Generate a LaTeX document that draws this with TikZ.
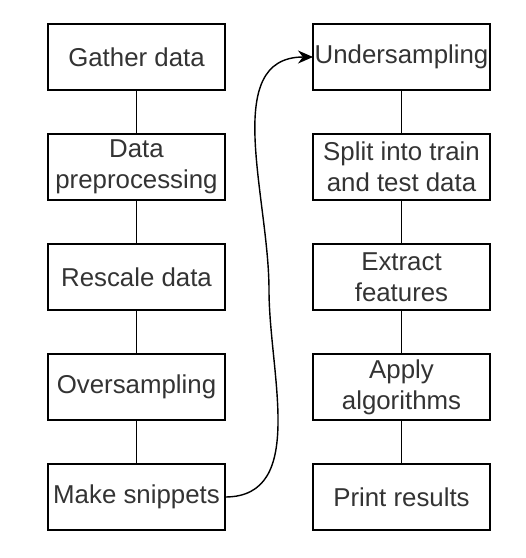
\documentclass[tikz,border=0pt]{standalone}
\usepackage{fontspec}
\setmainfont{Liberation Sans}
\usetikzlibrary{arrows,arrows.meta,positioning}
\tikzset{
    stepbox/.style={rectangle, draw=black, line width=1.1pt, minimum width=3.54cm, minimum height=1.32cm, inner sep=0pt, outer sep=0pt, align=center, text=black!80},
    link/.style={draw=black, line width=0.8pt},
    jump/.style={draw=black, line width=0.8pt, -{Stealth[length=0.3cm, width=0.26cm]}}
}

\begin{document}
\begin{tikzpicture}
  [
    node distance          = 0.88cm,
    every node/.style      = {font=\fontsize{14.7}{17.6}\selectfont},
  ]
  \useasboundingbox (0,0) rectangle (10.52,-11.16);
  % left column
  \node [stepbox] (gather) at (2.73,-1.14) {Gather data};
  \node [stepbox, below=of gather] (preproc) {Data\\preprocessing};
  \node [stepbox, below=of preproc] (rescale) {Rescale data};
  \node [stepbox, below=of rescale] (oversamp) {Oversampling};
  \node [stepbox, below=of oversamp] (snippets) {Make snippets};
  % right column
  \node [stepbox, right=1.76cm of gather] (undersamp) {Undersampling};
  \node [stepbox, below=of undersamp] (split) {Split into train\\and test data};
  \node [stepbox, below=of split] (extract) {Extract\\features};
  \node [stepbox, below=of extract] (apply) {Apply\\algorithms};
  \node [stepbox, below=of apply] (results) {Print results};

  \draw [link] (gather) -- (preproc);
  \draw [link] (preproc) -- (rescale);
  \draw [link] (rescale) -- (oversamp);
  \draw [link] (oversamp) -- (snippets);
  \draw [link] (undersamp) -- (split);
  \draw [link] (split) -- (extract);
  \draw [link] (extract) -- (apply);
  \draw [link] (apply) -- (results);

  \coordinate (bend) at (5.38,-5.8);
  \draw [jump] (snippets.east) to[out=0,in=-90] (bend) to[out=90,in=180] (undersamp.west);
\end{tikzpicture}
\end{document}
